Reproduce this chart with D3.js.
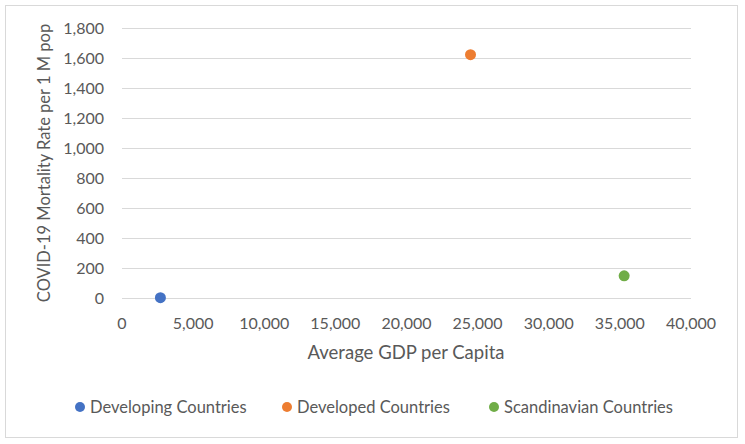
<!DOCTYPE html>
<html>
<head>
<meta charset="utf-8">
<script src="https://cdn.jsdelivr.net/npm/d3@7"></script>
<style>
  body { margin: 0; background: #fff; }
  text { font-family: Lato, "Open Sans", sans-serif; fill: #595959; }
</style>
</head>
<body>
<svg id="canvas" width="745" height="444"></svg>
<script>
const seriesNames = ['Developing Countries', 'Developed Countries', 'Scandinavian Countries']
const seriesColors = ['#4472c4', '#ed7d31', '#70ad47']
const gdpValues = [2700, 24500, 35300]
const mortalityValues = [2, 1622, 148]
const xTicks = [0, 5000, 10000, 15000, 20000, 25000, 30000, 35000, 40000]
const yTicks = [0, 200, 400, 600, 800, 1000, 1200, 1400, 1600, 1800]

let svg = d3.select('#canvas')
let fmt = d3.format(',')

svg.append('rect')
  .attr('x', 5.5).attr('y', 5.5)
  .attr('width', 732).attr('height', 432)
  .attr('fill', '#fff').attr('stroke', '#d9d9d9')

let x = d3.scaleLinear().domain([0, 40000]).range([122, 691])
let y = d3.scaleLinear().domain([0, 1800]).range([298, 28])

// gridlines
svg.append('g')
  .selectAll('line')
  .data(yTicks)
  .enter().append('line')
  .attr('x1', x(0)).attr('x2', x(40000))
  .attr('y1', d => y(d) + 0.5).attr('y2', d => y(d) + 0.5)
  .attr('stroke', '#d9d9d9').attr('stroke-width', 1)

// y labels
svg.append('g')
  .selectAll('text')
  .data(yTicks)
  .enter().append('text')
  .attr('x', 104).attr('y', d => y(d))
  .attr('dy', '0.35em')
  .attr('text-anchor', 'end')
  .attr('font-size', 16)
  .text(d => fmt(d))

// x labels
svg.append('g')
  .selectAll('text')
  .data(xTicks)
  .enter().append('text')
  .attr('x', d => x(d)).attr('y', 323)
  .attr('dy', '0.35em')
  .attr('text-anchor', 'middle')
  .attr('font-size', 16)
  .text(d => fmt(d))

// axis titles
svg.append('text')
  .attr('x', 406).attr('y', 353)
  .attr('dy', '0.35em')
  .attr('text-anchor', 'middle')
  .attr('font-size', 18.5)
  .text('Average GDP per Capita')

svg.append('text')
  .attr('transform', 'translate(44,163) rotate(-90)')
  .attr('dy', '0.35em')
  .attr('text-anchor', 'middle')
  .attr('font-size', 16.5)
  .text('COVID-19 Mortality Rate per 1 M pop')

// points
svg.append('g')
  .selectAll('circle')
  .data(seriesNames)
  .enter().append('circle')
  .attr('cx', (d, i) => x(gdpValues[i]))
  .attr('cy', (d, i) => y(mortalityValues[i]))
  .attr('r', 5.5)
  .attr('fill', (d, i) => seriesColors[i])

// legend
const legendX = [80, 287, 494]
let legend = svg.append('g')
  .selectAll('g')
  .data(seriesNames)
  .enter().append('g')
  .attr('transform', (d, i) => `translate(${legendX[i]},407)`)

legend.append('circle')
  .attr('r', 5)
  .attr('fill', (d, i) => seriesColors[i])

legend.append('text')
  .attr('x', 10)
  .attr('dy', '0.35em')
  .attr('font-size', 16.5)
  .text(d => d)
</script>
</body>
</html>
